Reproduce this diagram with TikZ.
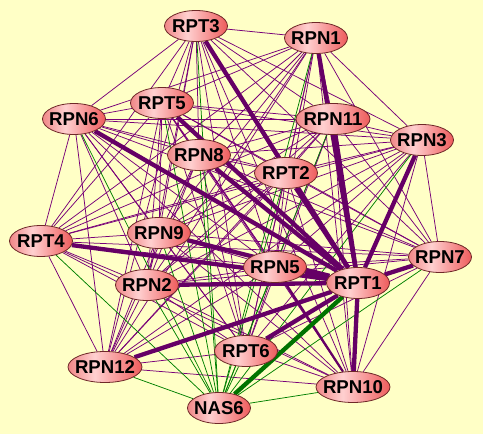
\documentclass[tikz,border=0pt]{standalone}
\usepackage{fontspec}
\setmainfont{Liberation Sans}
\usetikzlibrary{shapes.geometric}
\definecolor{bgc}{RGB}{255,255,198}
\definecolor{thinpurple}{RGB}{120,0,120}
\definecolor{thickpurple}{RGB}{102,0,102}
\definecolor{thingreen}{RGB}{0,128,0}
\definecolor{thickgreen}{RGB}{0,115,0}
\definecolor{nodeborder}{RGB}{110,40,40}
\definecolor{ncA}{RGB}{240,135,135}
\definecolor{ncB}{RGB}{255,208,208}
\definecolor{ncC}{RGB}{238,92,92}
\pgfdeclarehorizontalshading{nodeshade}{100bp}{color(0bp)=(ncA); color(25bp)=(ncA); color(43bp)=(ncB); color(75bp)=(ncC); color(100bp)=(ncC)}
\pgfdeclarelayer{bglayer}
\pgfdeclarelayer{edgelayer}
\pgfsetlayers{bglayer,edgelayer,main}
\tikzset{
  prot/.style={ellipse, draw=nodeborder, line width=0.8pt, shading=nodeshade,
    minimum width=63pt, minimum height=31pt, inner sep=0pt,
    font=\fontsize{18.6}{18.6}\selectfont\bfseries},
  wideprot/.style={prot, minimum width=74pt},
  thinedge/.style={draw=thinpurple, line width=0.75pt},
  thickedge/.style={draw=thickpurple, line width=4.3pt},
  medge/.style={draw=thickpurple, line width=2.2pt},
  greenedge/.style={draw=thingreen, line width=0.75pt},
  thickgreenedge/.style={draw=thickgreen, line width=4.3pt}
}
\newcommand{\lbl}[1]{\makebox[0pt]{#1}}
\begin{document}
\begin{tikzpicture}[x=1pt,y=-1pt]
\begin{pgfonlayer}{bglayer}
\fill[bgc] (0,0) rectangle (483,434);
\end{pgfonlayer}
\useasboundingbox (0,0) rectangle (483,434);
\node[prot] (RPT3) at (196,26) {\lbl{RPT3}};
\node[prot] (RPN1) at (316,38) {\lbl{RPN1}};
\node[prot] (RPN6) at (74,119) {\lbl{RPN6}};
\node[prot] (RPT5) at (162,103) {\lbl{RPT5}};
\node[wideprot] (RPN11) at (333,119) {\lbl{RPN11}};
\node[prot] (RPN3) at (422,140) {\lbl{RPN3}};
\node[prot] (RPN8) at (199,155) {\lbl{RPN8}};
\node[prot] (RPT2) at (286,173) {\lbl{RPT2}};
\node[prot] (RPN9) at (159,233) {\lbl{RPN9}};
\node[prot] (RPT4) at (41,241) {\lbl{RPT4}};
\node[prot] (RPN5) at (275,267) {\lbl{RPN5}};
\node[prot] (RPT1) at (358,283) {\lbl{RPT1}};
\node[prot] (RPN7) at (440,257) {\lbl{RPN7}};
\node[prot] (RPN2) at (147,285) {\lbl{RPN2}};
\node[prot] (RPT6) at (246,351) {\lbl{RPT6}};
\node[wideprot] (RPN12) at (105,367) {\lbl{RPN12}};
\node[wideprot] (RPN10) at (353,387) {\lbl{RPN10}};
\node[prot] (NAS6) at (219,408) {\lbl{NAS6}};
\begin{pgfonlayer}{edgelayer}
\foreach \a [count=\i] in {RPT3,RPN1,RPN6,RPT5,RPN11,RPN3,RPN8,RPT2,RPN9,RPT4,RPN5,RPT1,RPN7,RPN2,RPT6,RPN12,RPN10}{
  \foreach \b [count=\j] in {RPT3,RPN1,RPN6,RPT5,RPN11,RPN3,RPN8,RPT2,RPN9,RPT4,RPN5,RPT1,RPN7,RPN2,RPT6,RPN12,RPN10}{
    \ifnum\j>\i \draw[thinedge] (\a) -- (\b); \fi
  }
}
\foreach \b in {RPT3,RPN1,RPN6,RPT5,RPN11,RPN3,RPN8,RPT2,RPN9,RPT4,RPN5,RPN7,RPN2,RPT6,RPN12,RPN10}{
  \draw[greenedge] (NAS6) -- (\b);
}
\draw[medge] (RPN5) -- (RPN10);
\foreach \b in {RPT3,RPN1,RPN6,RPT5,RPN11,RPN3,RPN8,RPT2,RPN9,RPT4,RPN5,RPN7,RPN2,RPT6,RPN12,RPN10}{
  \draw[thickedge] (RPT1) -- (\b);
}
\draw[thickgreenedge] (NAS6) -- (RPT1);
\end{pgfonlayer}
\end{tikzpicture}
\end{document}
